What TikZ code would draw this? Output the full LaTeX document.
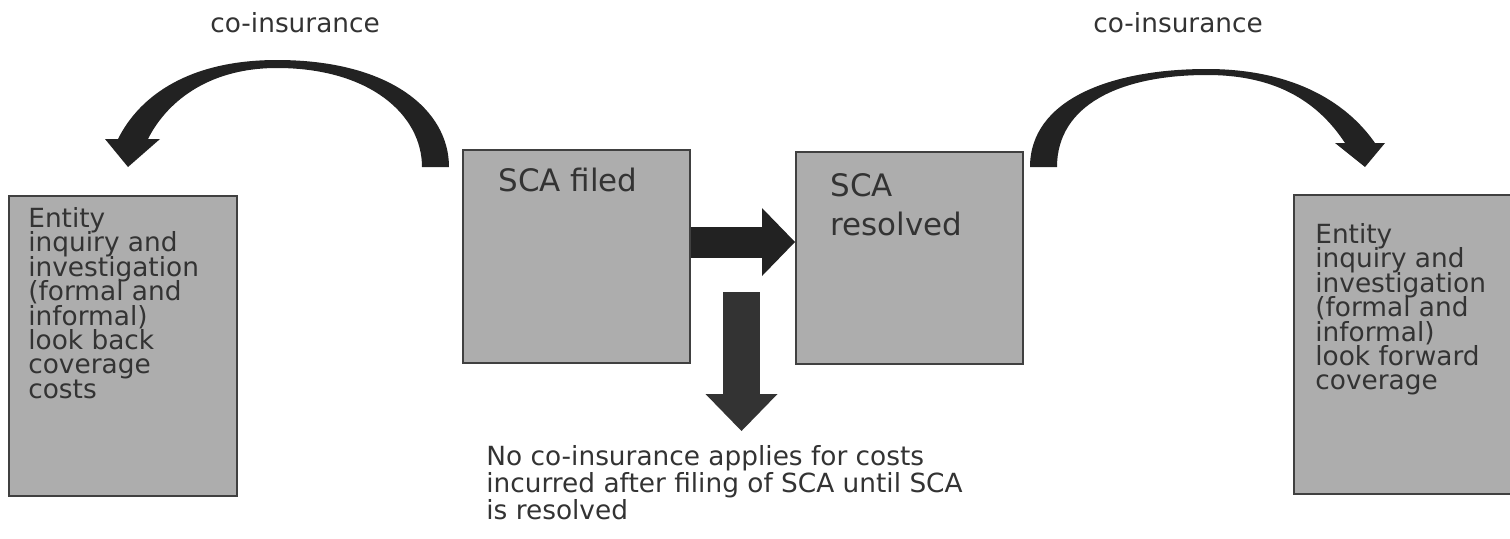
\documentclass[tikz,border=0pt]{standalone}
\usepackage{fontspec}
\setmainfont{DejaVu Sans}
\definecolor{boxgray}{RGB}{173,173,173}
\definecolor{edgegray}{RGB}{64,64,64}
\definecolor{inkgray}{RGB}{51,51,51}
\definecolor{arrowdark}{RGB}{34,34,34}
\definecolor{downdark}{RGB}{51,51,51}
\newcommand{\smallfont}{\fontsize{15}{13.9}\selectfont\lineskiplimit=-20pt}
\newcommand{\notefont}{\fontsize{15}{15.3}\selectfont\lineskiplimit=-20pt}
\newcommand{\bigfont}{\fontsize{17.6}{22.1}\selectfont\lineskiplimit=-20pt}
\usetikzlibrary{arrows.meta, positioning}

\begin{document}
\begin{tikzpicture}[
    stagebox/.style={draw=edgegray, fill=boxgray, line width=1.1pt,
      anchor=north west, inner sep=0pt},
    boxtext/.style={inner sep=0pt, text=inkgray, align=left, font=\smallfont},
    bigtext/.style={inner sep=0pt, text=inkgray, align=left, font=\bigfont},
    flatarrow/.style n args={4}{line width=#1, draw=#4,
      -{Triangle[length=#2, width=#3, line width=0pt]}},
  ]
    \clip (0,0) rectangle (30.2,-10.76);

    \node[stagebox, minimum width=4.56cm, minimum height=6.00cm] (back) at (0.16,-3.90) {};
    \node[stagebox, minimum width=4.54cm, minimum height=4.26cm] (filed) at (9.24,-2.98) {};
    \node[stagebox, minimum width=4.54cm, minimum height=4.24cm] (resolved) at (15.90,-3.02) {};
    \node[stagebox, minimum width=4.56cm, minimum height=5.98cm] (fwd) at (25.86,-3.88) {};

    \node[boxtext, below right=0.24cm and 0.40cm of back.north west] (backtext)
      {Entity\\inquiry and\\investigation\\(formal and\\informal)\\look back\\coverage\\costs};
    \node[boxtext, below right=0.58cm and 0.44cm of fwd.north west] (fwdtext)
      {Entity\\inquiry and\\investigation\\(formal and\\informal)\\look forward\\coverage};
    \node[bigtext, below right=0.37cm and 0.72cm of filed.north west] (filedtext) {SCA filed};
    \node[bigtext, below right=0.44cm and 0.70cm of resolved.north west] (resolvedtext) {SCA\\resolved};

    \node[boxtext, anchor=north west] (coleft) at (4.20,-0.24) {co-insurance};
    \node[boxtext, anchor=north west] (coright) at (21.86,-0.24) {co-insurance};
    \node[boxtext, font=\notefont, below right=1.62cm and 0.48cm of filed.south west] (note)
      {No co-insurance applies for costs\\incurred after filing of SCA until SCA\\is resolved};

    \coordinate (mid) at (0,-4.84);
    \draw[flatarrow={0.62cm}{0.66cm}{1.36cm}{arrowdark}] (filed.east |- mid) -- (resolved.west |- mid);

    \coordinate (dtop) at (14.83,-5.84);
    \coordinate (dtip) at (14.83,-8.62);
    \draw[flatarrow={0.74cm}{0.74cm}{1.44cm}{downdark}] (dtop) -- (dtip);

    \fill[arrowdark] (8.98,-3.34) .. controls (8.98,-2.20) and (7.80,-1.20) .. (5.54,-1.20)
      .. controls (3.80,-1.20) and (2.80,-1.90) .. (2.36,-2.78) -- (2.10,-2.78) -- (2.56,-3.34)
      -- (3.20,-2.78) -- (2.96,-2.78) .. controls (3.30,-2.10) and (4.10,-1.36) .. (5.54,-1.36)
      .. controls (7.40,-1.36) and (8.44,-2.30) .. (8.44,-3.34) -- cycle;
    \fill[arrowdark] (20.60,-3.34) .. controls (20.60,-2.00) and (22.20,-1.38) .. (24.14,-1.38)
      .. controls (25.80,-1.38) and (26.90,-2.00) .. (27.50,-2.86) -- (27.70,-2.86) -- (27.30,-3.34)
      -- (26.70,-2.86) -- (26.90,-2.86) .. controls (26.40,-2.10) and (25.60,-1.50) .. (24.14,-1.50)
      .. controls (22.40,-1.50) and (21.14,-2.10) .. (21.14,-3.34) -- cycle;
  \end{tikzpicture}
\end{document}
